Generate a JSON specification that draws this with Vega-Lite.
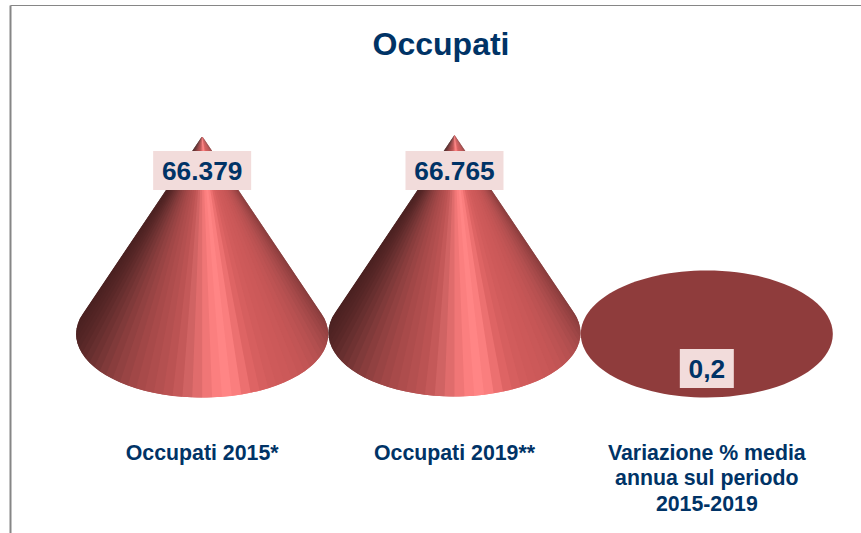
{"$schema":"https://vega.github.io/schema/vega-lite/v6.json","width":851,"height":528,"autosize":"none","padding":{"left":10,"top":5,"right":0,"bottom":0},"background":"white","config":{"view":{"stroke":null},"font":"Liberation Sans","point":{"filled":true,"opacity":1,"strokeWidth":0}},"title":{"text":"Occupati","fontSize":32,"font":"Liberation Sans","fontWeight":"bold","color":"#003366","anchor":"middle","frame":"group","dx":5.5,"offset":-82,"baseline":"alphabetic"},"data":{"values":[{"categoria":"Occupati 2015*","valore":66379,"etichetta":"66.379"},{"categoria":"Occupati 2019**","valore":66765,"etichetta":"66.765"},{"categoria":"Variazione % media annua sul periodo 2015-2019","valore":0.2,"etichetta":"0,2"}]},"encoding":{"x":{"field":"categoria","type":"nominal","sort":null,"scale":{"type":"band","paddingInner":0,"paddingOuter":0.1863,"align":0.702},"axis":{"title":null,"orient":"bottom","domain":false,"ticks":false,"grid":false,"labelAngle":0,"labelFont":"Liberation Sans","labelFontWeight":"bold","labelFontSize":21.3,"labelColor":"#003366","labelLimit":400,"labelOverlap":false,"labelBaseline":"top","labelLineHeight":25.5,"labelPadding":0,"offset":-91,"labelExpr":"datum.value == 'Variazione % media annua sul periodo 2015-2019' ? ['Variazione % media','annua sul periodo','2015-2019'] : datum.label"}},"y":{"field":"valore","type":"quantitative","scale":{"domain":[-66765,110380],"nice":false,"zero":false},"axis":{"title":null,"domain":true,"domainColor":"#868686","domainWidth":2,"ticks":false,"labels":false,"grid":true,"gridColor":"#868686","gridWidth":1,"values":[110380]}}},"layer":[{"transform":[{"filter":"datum.valore > 1"}],"layer":[
{"mark":{"type":"point","size":63504,"fill":"#4a2020","shape":"M0 0L-0.947 1.409A1 0.504 0 0 0 -0.986 1.487Z"}},
{"mark":{"type":"point","size":63504,"fill":"#4b2121","shape":"M0 0L-0.97 1.448A1 0.504 0 0 0 -0.996 1.526Z"}},
{"mark":{"type":"point","size":63504,"fill":"#4c2121","shape":"M0 0L-0.986 1.487A1 0.504 0 0 0 -1 1.566Z"}},
{"mark":{"type":"point","size":63504,"fill":"#4d2222","shape":"M0 0L-0.996 1.526A1 0.504 0 0 0 -0.998 1.606Z"}},
{"mark":{"type":"point","size":63504,"fill":"#4f2323","shape":"M0 0L-1 1.566A1 0.504 0 0 0 -0.989 1.645Z"}},
{"mark":{"type":"point","size":63504,"fill":"#522424","shape":"M0 0L-0.998 1.606A1 0.504 0 0 0 -0.974 1.684Z"}},
{"mark":{"type":"point","size":63504,"fill":"#552626","shape":"M0 0L-0.989 1.645A1 0.504 0 0 0 -0.954 1.723Z"}},
{"mark":{"type":"point","size":63504,"fill":"#5a2828","shape":"M0 0L-0.974 1.684A1 0.504 0 0 0 -0.927 1.76Z"}},
{"mark":{"type":"point","size":63504,"fill":"#602b2b","shape":"M0 0L-0.954 1.723A1 0.504 0 0 0 -0.894 1.797Z"}},
{"mark":{"type":"point","size":63504,"fill":"#672f2f","shape":"M0 0L-0.927 1.76A1 0.504 0 0 0 -0.856 1.832Z"}},
{"mark":{"type":"point","size":63504,"fill":"#6f3232","shape":"M0 0L-0.894 1.797A1 0.504 0 0 0 -0.813 1.865Z"}},
{"mark":{"type":"point","size":63504,"fill":"#773636","shape":"M0 0L-0.856 1.832A1 0.504 0 0 0 -0.764 1.896Z"}},
{"mark":{"type":"point","size":63504,"fill":"#803a3a","shape":"M0 0L-0.813 1.865A1 0.504 0 0 0 -0.711 1.926Z"}},
{"mark":{"type":"point","size":63504,"fill":"#893d3d","shape":"M0 0L-0.764 1.896A1 0.504 0 0 0 -0.653 1.953Z"}},
{"mark":{"type":"point","size":63504,"fill":"#914141","shape":"M0 0L-0.711 1.926A1 0.504 0 0 0 -0.591 1.978Z"}},
{"mark":{"type":"point","size":63504,"fill":"#994444","shape":"M0 0L-0.653 1.953A1 0.504 0 0 0 -0.525 2Z"}},
{"mark":{"type":"point","size":63504,"fill":"#a14747","shape":"M0 0L-0.591 1.978A1 0.504 0 0 0 -0.456 2.02Z"}},
{"mark":{"type":"point","size":63504,"fill":"#a84a4a","shape":"M0 0L-0.525 2A1 0.504 0 0 0 -0.385 2.036Z"}},
{"mark":{"type":"point","size":63504,"fill":"#ae4d4d","shape":"M0 0L-0.456 2.02A1 0.504 0 0 0 -0.311 2.05Z"}},
{"mark":{"type":"point","size":63504,"fill":"#b45050","shape":"M0 0L-0.385 2.036A1 0.504 0 0 0 -0.235 2.061Z"}},
{"mark":{"type":"point","size":63504,"fill":"#bb5353","shape":"M0 0L-0.311 2.05A1 0.504 0 0 0 -0.157 2.069Z"}},
{"mark":{"type":"point","size":63504,"fill":"#c45959","shape":"M0 0L-0.235 2.061A1 0.504 0 0 0 -0.079 2.073Z"}},
{"mark":{"type":"point","size":63504,"fill":"#d06363","shape":"M0 0L-0.157 2.069A1 0.504 0 0 0 0 2.075Z"}},
{"mark":{"type":"point","size":63504,"fill":"#e06c6c","shape":"M0 0L-0.079 2.073A1 0.504 0 0 0 0.079 2.073Z"}},
{"mark":{"type":"point","size":63504,"fill":"#f07676","shape":"M0 0L0 2.075A1 0.504 0 0 0 0.157 2.069Z"}},
{"mark":{"type":"point","size":63504,"fill":"#fb7f7f","shape":"M0 0L0.079 2.073A1 0.504 0 0 0 0.235 2.061Z"}},
{"mark":{"type":"point","size":63504,"fill":"#ff8585","shape":"M0 0L0.157 2.069A1 0.504 0 0 0 0.311 2.05Z"}},
{"mark":{"type":"point","size":63504,"fill":"#fa7e7e","shape":"M0 0L0.235 2.061A1 0.504 0 0 0 0.385 2.036Z"}},
{"mark":{"type":"point","size":63504,"fill":"#ec7070","shape":"M0 0L0.311 2.05A1 0.504 0 0 0 0.456 2.02Z"}},
{"mark":{"type":"point","size":63504,"fill":"#de6464","shape":"M0 0L0.385 2.036A1 0.504 0 0 0 0.525 2Z"}},
{"mark":{"type":"point","size":63504,"fill":"#d65f5f","shape":"M0 0L0.456 2.02A1 0.504 0 0 0 0.591 1.978Z"}},
{"mark":{"type":"point","size":63504,"fill":"#d15c5c","shape":"M0 0L0.525 2A1 0.504 0 0 0 0.653 1.953Z"}},
{"mark":{"type":"point","size":63504,"fill":"#ce5a5a","shape":"M0 0L0.591 1.978A1 0.504 0 0 0 0.711 1.926Z"}},
{"mark":{"type":"point","size":63504,"fill":"#cc5959","shape":"M0 0L0.653 1.953A1 0.504 0 0 0 0.764 1.896Z"}},
{"mark":{"type":"point","size":63504,"fill":"#c95858","shape":"M0 0L0.711 1.926A1 0.504 0 0 0 0.813 1.865Z"}},
{"mark":{"type":"point","size":63504,"fill":"#c65656","shape":"M0 0L0.764 1.896A1 0.504 0 0 0 0.856 1.832Z"}},
{"mark":{"type":"point","size":63504,"fill":"#c25555","shape":"M0 0L0.813 1.865A1 0.504 0 0 0 0.894 1.797Z"}},
{"mark":{"type":"point","size":63504,"fill":"#bd5353","shape":"M0 0L0.856 1.832A1 0.504 0 0 0 0.927 1.76Z"}},
{"mark":{"type":"point","size":63504,"fill":"#b85151","shape":"M0 0L0.894 1.797A1 0.504 0 0 0 0.954 1.723Z"}},
{"mark":{"type":"point","size":63504,"fill":"#b24f4f","shape":"M0 0L0.927 1.76A1 0.504 0 0 0 0.974 1.684Z"}},
{"mark":{"type":"point","size":63504,"fill":"#ab4c4c","shape":"M0 0L0.954 1.723A1 0.504 0 0 0 0.989 1.645Z"}},
{"mark":{"type":"point","size":63504,"fill":"#a54949","shape":"M0 0L0.974 1.684A1 0.504 0 0 0 0.998 1.606Z"}},
{"mark":{"type":"point","size":63504,"fill":"#9e4646","shape":"M0 0L0.989 1.645A1 0.504 0 0 0 1 1.566Z"}},
{"mark":{"type":"point","size":63504,"fill":"#984343","shape":"M0 0L0.998 1.606A1 0.504 0 0 0 0.996 1.526Z"}},
{"mark":{"type":"point","size":63504,"fill":"#924141","shape":"M0 0L1 1.566A1 0.504 0 0 0 0.986 1.487Z"}},
{"mark":{"type":"point","size":63504,"fill":"#8d3f3f","shape":"M0 0L0.996 1.526A1 0.504 0 0 0 0.97 1.448Z"}},
{"mark":{"type":"point","size":63504,"fill":"#883d3d","shape":"M0 0L0.986 1.487A1 0.504 0 0 0 0.947 1.409Z"}},
{"mark":{"type":"point","size":63504,"fill":"#843b3b","shape":"M0 0L0.97 1.448A1 0.504 0 0 0 0.947 1.409Z"}},
{"mark":{"type":"point","size":9604,"fill":"#f2dcdb","shape":"M-1 0.327L1 0.327L1 1.122L-1 1.122Z"},"encoding":{"y":{"datum":66765}}},{"mark":{"type":"text","font":"Liberation Sans","fontWeight":"bold","fontSize":26.3,"color":"#003366","baseline":"middle","dy":37},"encoding":{"y":{"datum":66765},"text":{"field":"etichetta"}}}]},{"transform":[{"filter":"datum.valore <= 1"}],"layer":[{"mark":{"type":"point","size":63504,"fill":"#8f3c3c","shape":"M-1 0A1 0.504 0 1 0 1 0A1 0.504 0 1 0 -1 0Z"}},{"mark":{"type":"point","size":2916,"fill":"#f2dcdb","shape":"M-1 0.556L1 0.556L1 2L-1 2Z"}},{"mark":{"type":"text","font":"Liberation Sans","fontWeight":"bold","fontSize":26.3,"color":"#003366","baseline":"middle","dy":36},"encoding":{"text":{"field":"etichetta"}}}]}]}
